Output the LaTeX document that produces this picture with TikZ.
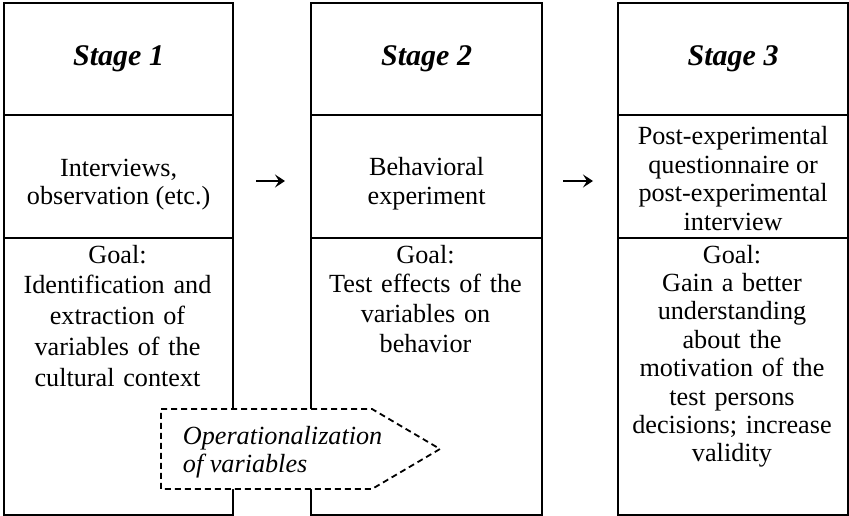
\documentclass[tikz,border=0pt]{standalone}
\usepackage{fontspec}
\setmainfont{Liberation Serif}
\usetikzlibrary{arrows.meta}
\begin{document}
\begin{tikzpicture}[x=1pt,y=-1pt,
  cell/.style={draw, line width=2.2pt, anchor=north west, inner sep=0pt, minimum height=#1},
  body/.style={font=\fontsize{26.2}{28.4}\selectfont, align=center, inner sep=0pt},
  goal/.style={font=\fontsize{26.2}{#1}\selectfont, align=center, inner sep=0pt, anchor=base, text width=225pt},
  head/.style={font=\fontsize{30}{34}\selectfont\bfseries\itshape, inner sep=0pt},
  flow/.style={line width=1.8pt, -{Stealth[length=10pt,width=13pt,inset=4pt]}},
  opbox/.style={draw, fill=white, line width=1.8pt, dash pattern=on 6pt off 4pt},
  optext/.style={font=\fontsize{26.2}{28}\selectfont\itshape, align=left, inner sep=0pt, anchor=base west}
]
\useasboundingbox (0,0) rectangle (849,516);
% column 1
\node[cell=112pt, minimum width=229pt] (h1) at (3,2) {};
\node[cell=123pt, minimum width=229pt] (m1) at (3,114) {};
\node[cell=277pt, minimum width=229pt] (g1) at (3,237) {};
% column 2
\node[cell=112pt, minimum width=231pt] (h2) at (310,2) {};
\node[cell=123pt, minimum width=231pt] (m2) at (310,114) {};
\node[cell=277pt, minimum width=231pt] (g2) at (310,237) {};
% column 3
\node[cell=112pt, minimum width=230pt] (h3) at (617,2) {};
\node[cell=123pt, minimum width=230pt] (m3) at (617,114) {};
\node[cell=277pt, minimum width=230pt] (g3) at (617,237) {};
% headers
\node[head] (t1) at (h1) {Stage 1};
\node[head] (t2) at (h2) {Stage 2};
\node[head] (t3) at (h3) {Stage 3};
% middle
\node[body] (i1) at ([yshift=-8pt]m1.center) {Interviews,\\observation (etc.)};
\node[body] (i2) at ([yshift=-7pt]m2.center) {Behavioral\\experiment};
\node[body] (i3) at ([yshift=-2pt]m3.center) {Post-experimental\\questionnaire or\\post-experimental\\interview};
% goals
\node[goal=30.9] (q1) at (117.5,263) {Goal:\\Identification and\\extraction of\\variables of the\\cultural context};
\node[goal=29.9] (q2) at (425.5,263) {Goal:\\Test effects of the\\variables on\\behavior};
\node[goal=28.4] (q3) at (732,263) {Goal:\\Gain a better\\understanding\\about the\\motivation of the\\test persons\\decisions; increase\\validity};
% arrows between stages
\coordinate (a1s) at (256,181);
\coordinate (a1e) at (285,181);
\coordinate (a2s) at (563,181);
\coordinate (a2e) at (593,181);
\draw[flow] (a1s) -- (a1e);
\draw[flow] (a2s) -- (a2e);
% operationalization
\draw[opbox] (161,409) -- (372,409) -- (440,449) -- (372,489) -- (161,489) -- cycle;
\node[optext] (op) at (182.7,472) {Operationalization\\of variables};
\end{tikzpicture}
\end{document}
